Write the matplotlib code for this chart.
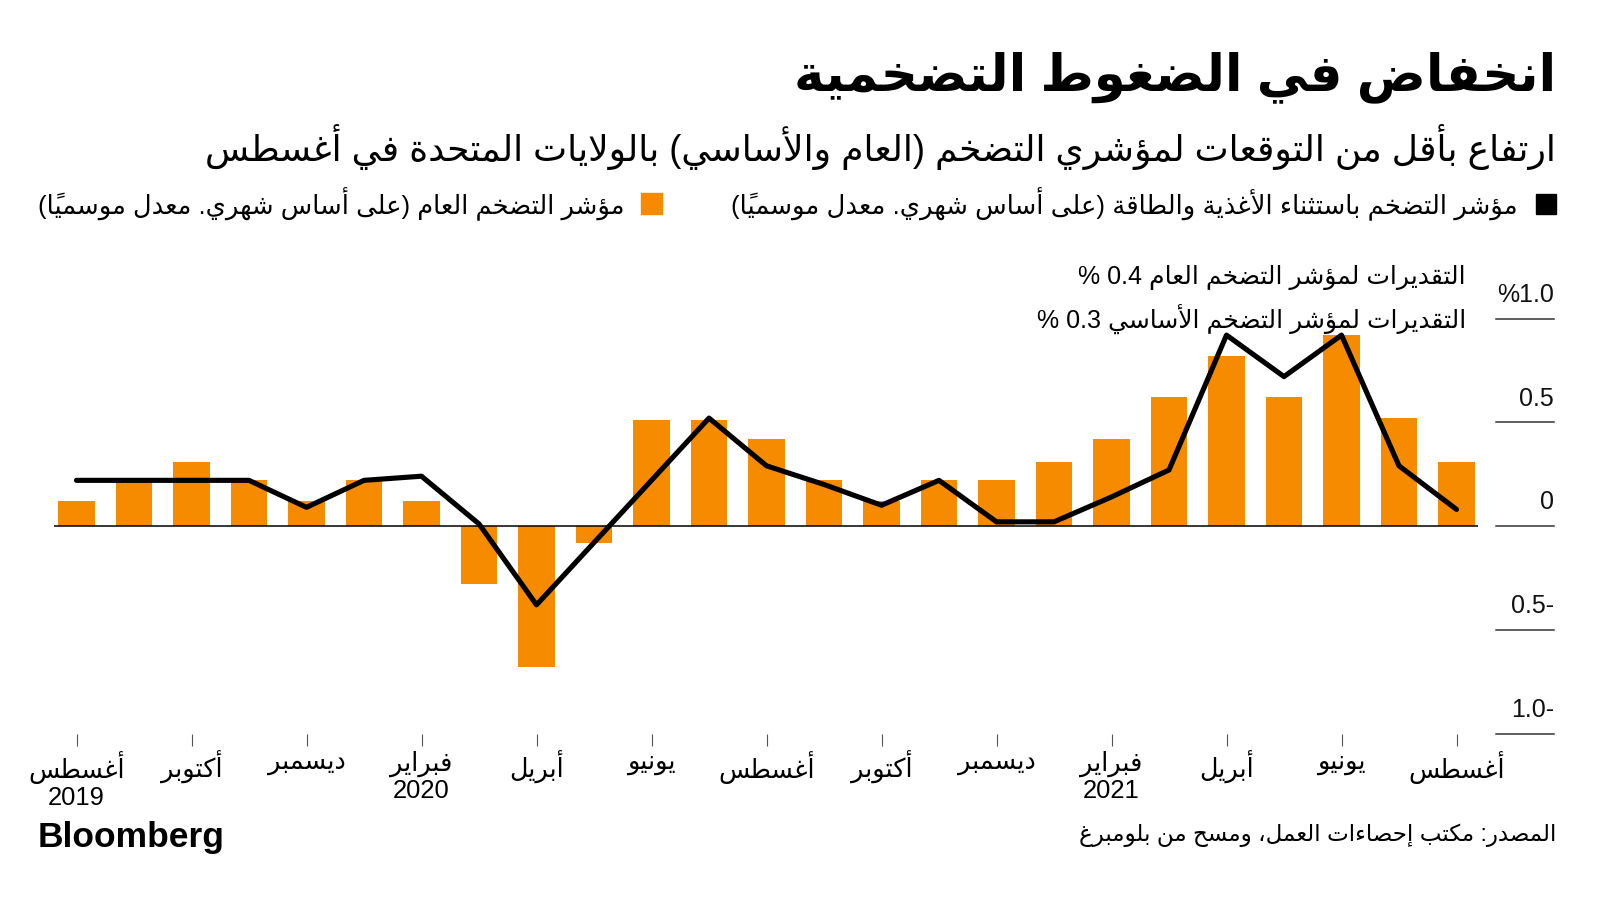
import re
import matplotlib
matplotlib.use("Agg")
import matplotlib.pyplot as plt
from matplotlib.patches import Rectangle
from matplotlib.transforms import blended_transform_factory

# monthly change, seasonally adjusted, Aug 2019 .. Aug 2021
headline = [0.12, 0.22, 0.31, 0.22, 0.12, 0.22, 0.12, -0.28, -0.68, -0.08, 0.51, 0.51, 0.42,
            0.22, 0.12, 0.22, 0.22, 0.31, 0.42, 0.62, 0.82, 0.62, 0.92, 0.52, 0.31]
core = [0.22, 0.22, 0.22, 0.22, 0.09, 0.22, 0.24, 0.01, -0.38, -0.08, 0.22, 0.52, 0.29,
        0.2, 0.1, 0.22, 0.02, 0.02, 0.14, 0.27, 0.92, 0.72, 0.92, 0.29, 0.08]

tick_months = ["أغسطس\n2019", "أكتوبر", "ديسمبر", "فبراير\n2020", "أبريل", "يونيو", "أغسطس",
               "أكتوبر", "ديسمبر", "فبراير\n2021", "أبريل", "يونيو", "أغسطس"]
y_ticks = [1.0, 0.5, 0, -0.5, -1.0]
y_labels = ["%1.0", "0.5", "0", "0.5-", "1.0-"]

title = "انخفاض في الضغوط التضخمية"
subtitle = "ارتفاع بأقل من التوقعات لمؤشري التضخم (العام والأساسي) بالولايات المتحدة في أغسطس"
core_label = "مؤشر التضخم باستثناء الأغذية والطاقة (على أساس شهري. معدل موسمياً)"
headline_label = "مؤشر التضخم العام (على أساس شهري. معدل موسمياً)"
note_headline = "التقديرات لمؤشر التضخم العام 0.4 %"
note_core = "التقديرات لمؤشر التضخم الأساسي 0.3 %"
source = "المصدر: مكتب إحصاءات العمل، ومسح من بلومبرغ"

ORANGE = "#F68B00"

# --- minimal arabic shaping + right-to-left ordering (matplotlib has no text shaping)
_forms = [
    ('ء', 0xFE80, 1), ('آ', 0xFE81, 2), ('أ', 0xFE83, 2), ('ؤ', 0xFE85, 2),
    ('إ', 0xFE87, 2), ('ئ', 0xFE89, 4), ('ا', 0xFE8D, 2), ('ب', 0xFE8F, 4),
    ('ة', 0xFE93, 2), ('ت', 0xFE95, 4), ('ث', 0xFE99, 4), ('ج', 0xFE9D, 4),
    ('ح', 0xFEA1, 4), ('خ', 0xFEA5, 4), ('د', 0xFEA9, 2), ('ذ', 0xFEAB, 2),
    ('ر', 0xFEAD, 2), ('ز', 0xFEAF, 2), ('س', 0xFEB1, 4), ('ش', 0xFEB5, 4),
    ('ص', 0xFEB9, 4), ('ض', 0xFEBD, 4), ('ط', 0xFEC1, 4), ('ظ', 0xFEC5, 4),
    ('ع', 0xFEC9, 4), ('غ', 0xFECD, 4), ('ف', 0xFED1, 4), ('ق', 0xFED5, 4),
    ('ك', 0xFED9, 4), ('ل', 0xFEDD, 4), ('م', 0xFEE1, 4), ('ن', 0xFEE5, 4),
    ('ه', 0xFEE9, 4), ('و', 0xFEED, 2), ('ى', 0xFEEF, 2), ('ي', 0xFEF1, 4),
]
FORMS = {c: (start, n) for c, start, n in _forms}
LAM_ALEF = {'آ': 0xFEF5, 'أ': 0xFEF7, 'إ': 0xFEF9, 'ا': 0xFEFB}
MIRROR = {'(': ')', ')': '('}


def is_mark(c):
    return '\u064B' <= c <= '\u065F' or c == '\u0670'


def shape(text):
    chars = list(text)
    n = len(chars)

    def neighbour(i, step):
        j = i + step
        while 0 <= j < n and is_mark(chars[j]):
            j += step
        return chars[j] if 0 <= j < n else None

    out = []
    i = 0
    while i < n:
        c = chars[i]
        if c not in FORMS:
            out.append(c)
            i += 1
            continue
        start, nf = FORMS[c]
        prev = neighbour(i, -1)
        nxt = neighbour(i, 1)
        joins_prev = nf > 1 and prev in FORMS and FORMS[prev][1] == 4
        if c == 'ل' and nxt in LAM_ALEF:
            out.append(chr(LAM_ALEF[nxt] + (1 if joins_prev else 0)))
            i += 2
            continue
        joins_next = nf == 4 and nxt in FORMS and FORMS[nxt][1] > 1
        if joins_prev and joins_next:
            k = 3
        elif joins_prev:
            k = 1
        elif joins_next:
            k = 2
        else:
            k = 0
        out.append(chr(start + k))
        i += 1
    return ''.join(out)


def rtl(text):
    lines = []
    for line in text.split('\n'):
        clusters = []
        for ch in shape(line):
            if is_mark(ch) and clusters:
                clusters[-1] += ch
            else:
                clusters.append(ch)
        s = ''.join(MIRROR.get(c, c) for c in reversed(clusters))
        s = re.sub(r'[0-9A-Za-z][0-9A-Za-z.]*[0-9A-Za-z]|[0-9A-Za-z]', lambda m: m.group(0)[::-1], s)
        lines.append(s)
    return '\n'.join(lines)


AR = ['Liberation Sans', 'DejaVu Sans']
W, H = 1600, 901


def fx(x):
    return x / W


def fy(y):
    return 1 - y / H


fig = plt.figure(figsize=(16, 9.01), dpi=100)
fig.patch.set_facecolor('white')

# axes placed so that 0 -> 526 px, 1 unit -> 207.5 px, first bar centre 76.5 px, 57.5 px per month
px_unit, zero_px = 207.5, 526
y_lo, y_hi = -1.0, 1.1
ax_left, ax_right = 54, 1478
x_step, x0_px = 57.5, 76.5
bottom_px = zero_px - y_lo * px_unit
top_px = zero_px - y_hi * px_unit
ax = fig.add_axes([fx(ax_left), fy(bottom_px), (ax_right - ax_left) / W, (bottom_px - top_px) / H])
ax.set_ylim(y_lo, y_hi)
ax.set_xlim((ax_left - x0_px) / x_step, (ax_right - x0_px) / x_step)

x = list(range(len(headline)))
ax.bar(x, headline, width=0.64, color=ORANGE, zorder=2)
ax.plot(x, core, color='black', lw=3.7, solid_joinstyle='round', solid_capstyle='round', zorder=3)
ax.axhline(0, color='black', lw=1.1, zorder=2.5)

for s in ax.spines.values():
    s.set_visible(False)
ax.set_yticks([])
ax.set_xticks(x[::2])
ax.set_xticklabels([rtl(t) for t in tick_months], family=AR, fontsize=18.4, linespacing=1.12)
ax.tick_params(axis='x', direction='out', length=8.5, width=0.8, color='#555555', pad=4)

# short grid lines and labels on the right
tr = blended_transform_factory(ax.transAxes, ax.transData)
g0 = (1496 - ax_left) / (ax_right - ax_left)
g1 = (1554 - ax_left) / (ax_right - ax_left)
for v, lab in zip(y_ticks, y_labels):
    ax.plot([g0, g1], [v, v], transform=tr, color='#333333', lw=1.1, clip_on=False)
    ax.annotate(lab, xy=(g1, v), xycoords=tr, xytext=(0, 12), textcoords='offset points',
                ha='right', va='baseline', fontsize=18, family='Liberation Sans', color='#111111')

# estimates notes
fig.text(fx(1466), fy(278), rtl(note_headline), ha='right', va='center', fontsize=18, family=AR)
fig.text(fx(1466), fy(319), rtl(note_core), ha='right', va='center', fontsize=18, family=AR)

# title block
fig.text(fx(1556), fy(77), rtl(title), ha='right', va='center', fontsize=37, fontweight='bold', family=AR)
fig.text(fx(1556), fy(147), rtl(subtitle), ha='right', va='center', fontsize=26, family=AR)

# legend
fig.patches.append(Rectangle((fx(1536), fy(214)), 20 / W, 20 / H, transform=fig.transFigure,
                             color='black', figure=fig))
fig.text(fx(1518), fy(204), rtl(core_label), ha='right', va='center', fontsize=18.6, family=AR)
fig.patches.append(Rectangle((fx(641), fy(214)), 21 / W, 21 / H, transform=fig.transFigure,
                             color=ORANGE, figure=fig))
fig.text(fx(624), fy(204), rtl(headline_label), ha='right', va='center', fontsize=18.5, family=AR)

# footer
fig.text(fx(38), fy(837), "Bloomberg", ha='left', va='center', fontsize=25.5, fontweight='bold',
         family='Liberation Sans')
fig.text(fx(1556), fy(835), rtl(source), ha='right', va='center', fontsize=16.6, family=AR)

fig.savefig("out.png", dpi=100, facecolor='white')
